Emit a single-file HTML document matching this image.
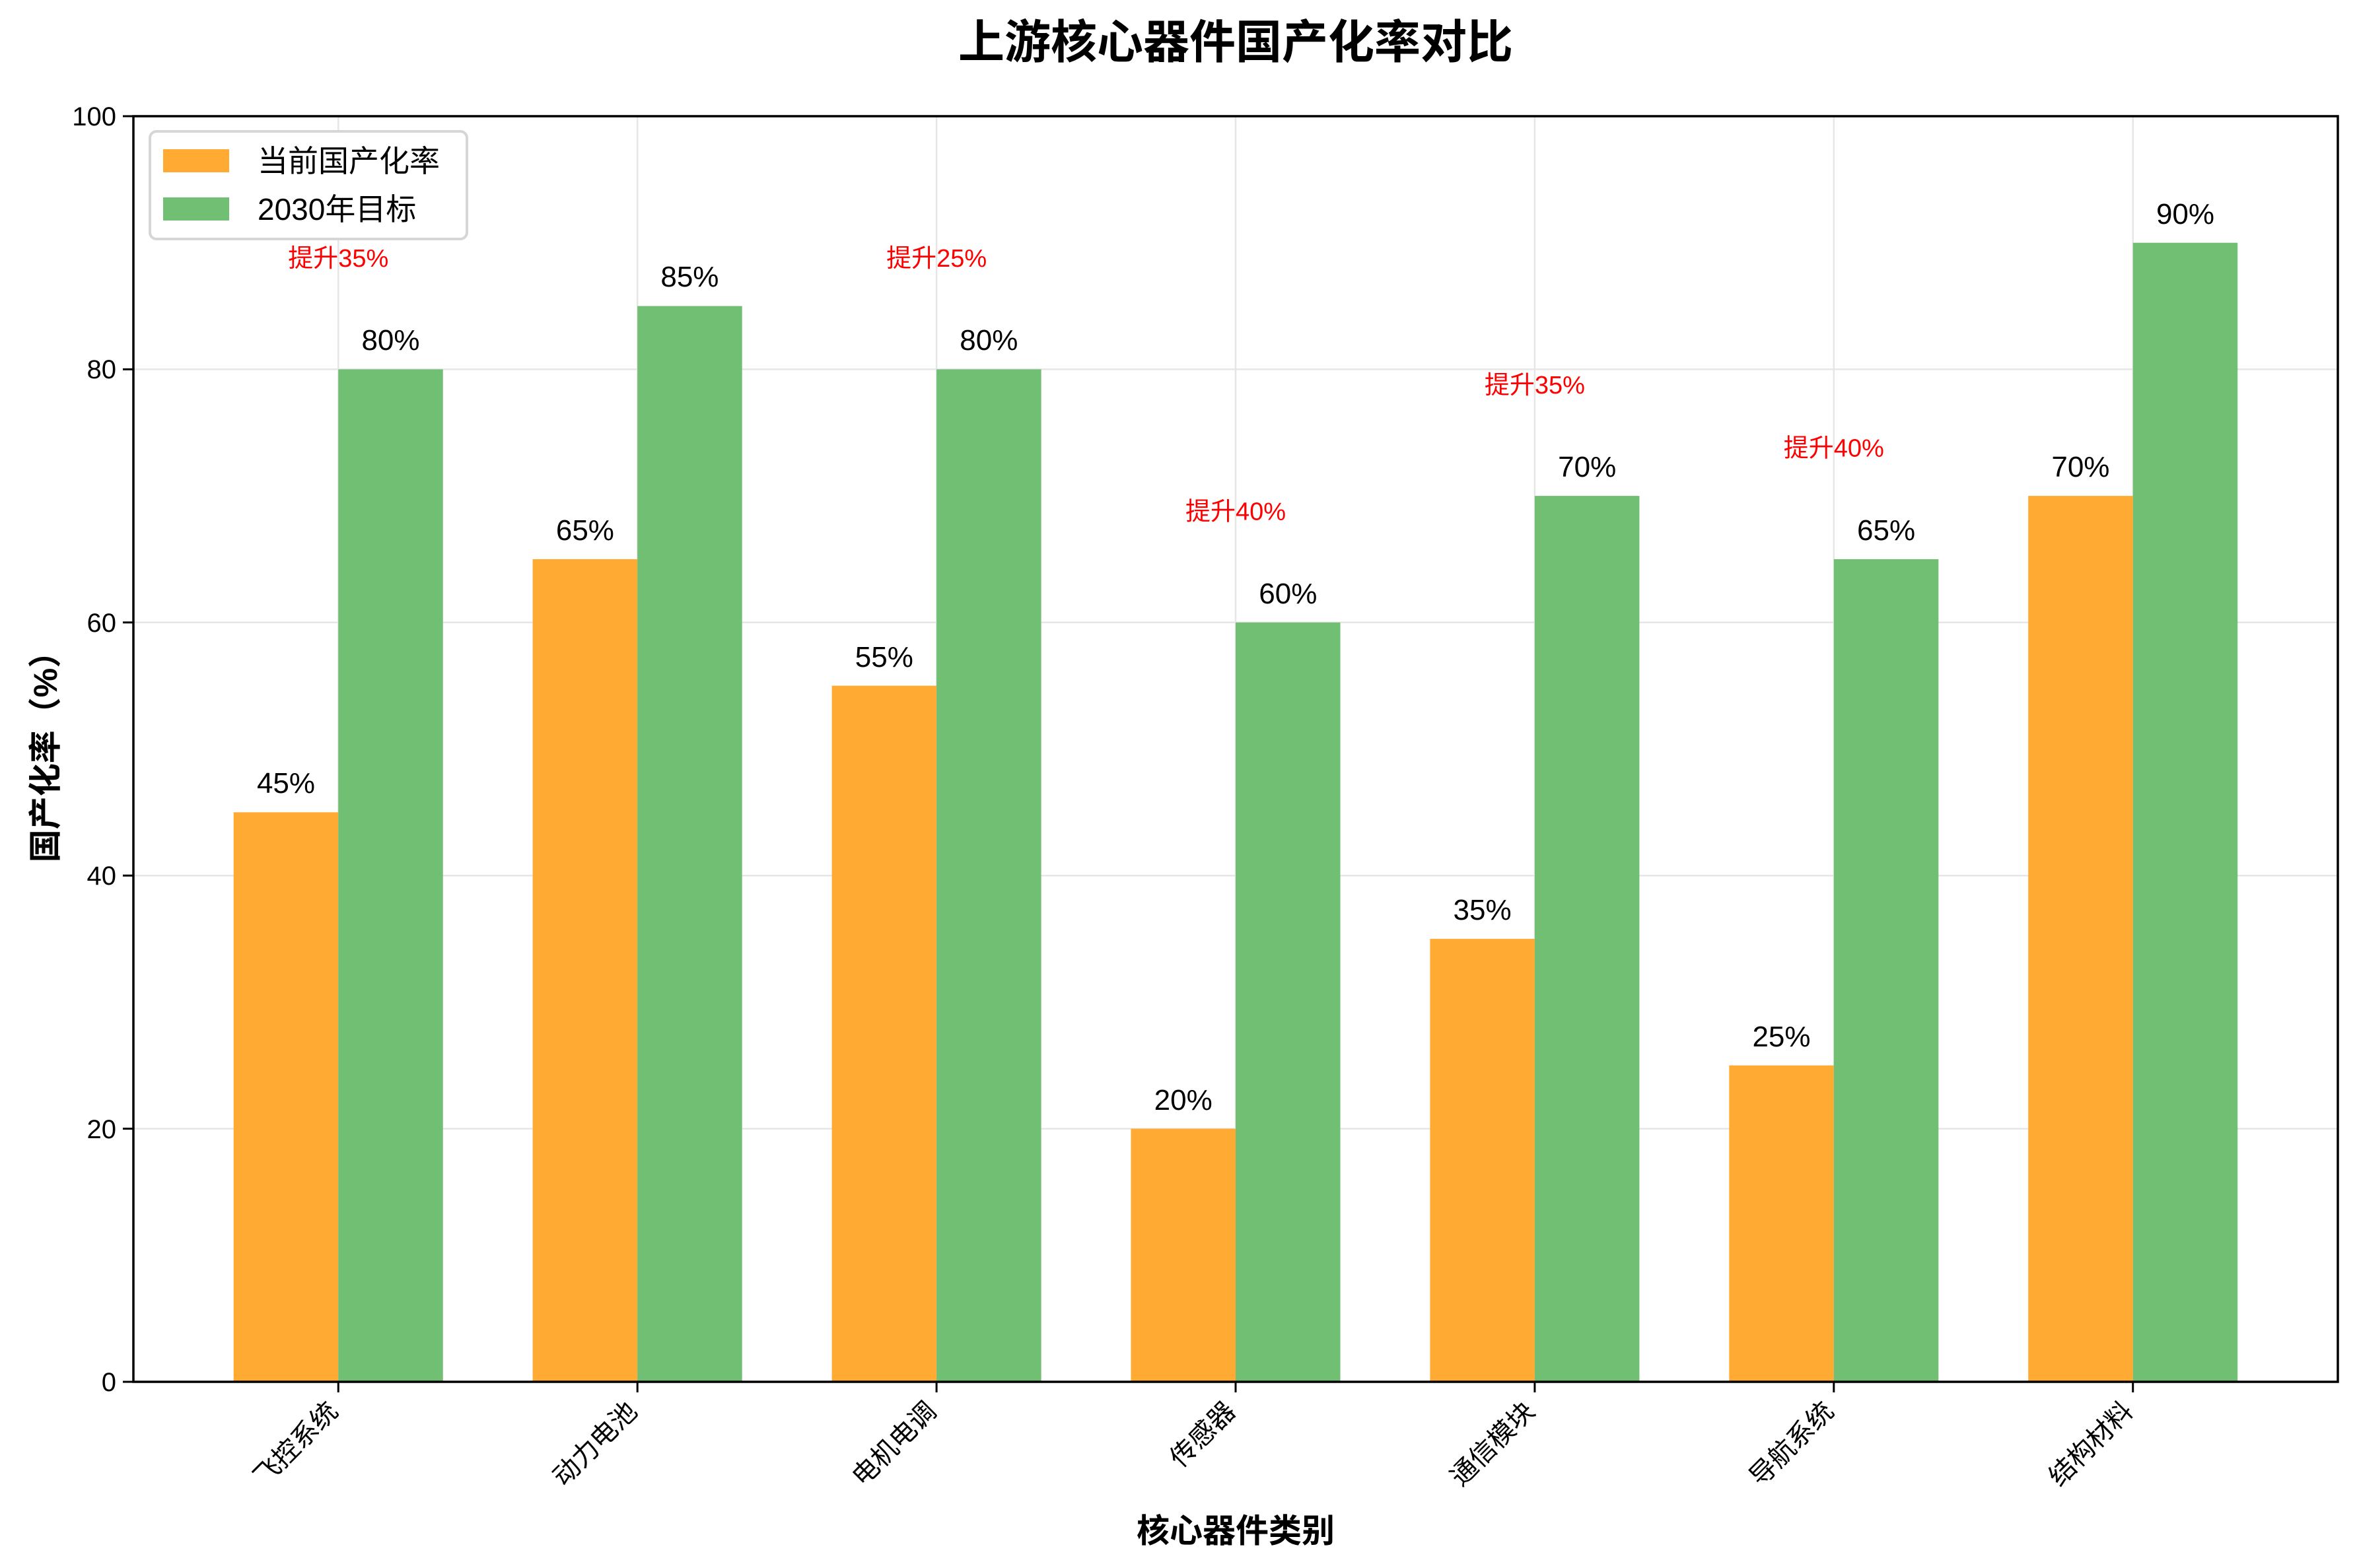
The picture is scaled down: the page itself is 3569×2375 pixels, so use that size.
<!DOCTYPE html>
<html><head><meta charset="utf-8"><style>
html,body{margin:0;padding:0;background:#fff}
svg text{font-family:"Liberation Sans","Noto Sans CJK SC",sans-serif}
</style></head><body>
<svg width="3569" height="2370" xmlns="http://www.w3.org/2000/svg">
<rect width="3569" height="2370" fill="#fff"/>
<g stroke="#e6e6e6" stroke-width="2.5">
<line x1="202" x2="3540" y1="1709.6" y2="1709.6"/>
<line x1="202" x2="3540" y1="1326.2" y2="1326.2"/>
<line x1="202" x2="3540" y1="942.8" y2="942.8"/>
<line x1="202" x2="3540" y1="559.4" y2="559.4"/>
<line x1="512.25" x2="512.25" y1="176" y2="2093"/>
<line x1="965.2" x2="965.2" y1="176" y2="2093"/>
<line x1="1418.1" x2="1418.1" y1="176" y2="2093"/>
<line x1="1871" x2="1871" y1="176" y2="2093"/>
<line x1="2323.9" x2="2323.9" y1="176" y2="2093"/>
<line x1="2776.8" x2="2776.8" y1="176" y2="2093"/>
<line x1="3229.7" x2="3229.7" y1="176" y2="2093"/>
</g>
<g fill="#feaa33">
<rect x="353.7" y="1230.35" width="158.55" height="862.65"/>
<rect x="806.6" y="846.95" width="158.6" height="1246.05"/>
<rect x="1259.6" y="1038.65" width="158.5" height="1054.35"/>
<rect x="1712.5" y="1709.6" width="158.5" height="383.4"/>
<rect x="2165.4" y="1422.05" width="158.5" height="670.95"/>
<rect x="2618.3" y="1613.75" width="158.5" height="479.25"/>
<rect x="3071.2" y="751.1" width="158.5" height="1341.9"/>
</g>
<g fill="#71bf73">
<rect x="512.25" y="559.4" width="158.5" height="1533.6"/>
<rect x="965.2" y="463.55" width="158.5" height="1629.45"/>
<rect x="1418.1" y="559.4" width="158.5" height="1533.6"/>
<rect x="1871" y="942.8" width="158.5" height="1150.2"/>
<rect x="2323.9" y="751.1" width="158.5" height="1341.9"/>
<rect x="2776.8" y="846.95" width="158.5" height="1246.05"/>
<rect x="3229.7" y="367.7" width="158.5" height="1725.3"/>
</g>
<g font-size="44" text-anchor="middle" fill="#000">
<text x="433" y="1201">45%</text><text x="591.5" y="530">80%</text>
<text x="885.9" y="818">65%</text><text x="1044.4" y="434">85%</text>
<text x="1338.8" y="1010">55%</text><text x="1497.3" y="530">80%</text>
<text x="1791.7" y="1681">20%</text><text x="1950.3" y="914">60%</text>
<text x="2244.6" y="1393">35%</text><text x="2403.2" y="722">70%</text>
<text x="2697.5" y="1585">25%</text><text x="2856.1" y="818">65%</text>
<text x="3150.4" y="722">70%</text><text x="3309" y="339">90%</text>
</g>
<g font-size="38" text-anchor="middle" fill="#ff0000">
<text x="512.25" y="404">提升35%</text>
<text x="1418.1" y="404">提升25%</text>
<text x="1871" y="787.5">提升40%</text>
<text x="2323.9" y="595.8">提升35%</text>
<text x="2776.8" y="691.7">提升40%</text>
</g>
<g stroke="#000" stroke-width="3">
<line x1="512.25" x2="512.25" y1="2093" y2="2109"/>
<line x1="965.2" x2="965.2" y1="2093" y2="2109"/>
<line x1="1418.1" x2="1418.1" y1="2093" y2="2109"/>
<line x1="1871" x2="1871" y1="2093" y2="2109"/>
<line x1="2323.9" x2="2323.9" y1="2093" y2="2109"/>
<line x1="2776.8" x2="2776.8" y1="2093" y2="2109"/>
<line x1="3229.7" x2="3229.7" y1="2093" y2="2109"/>
<line x1="186" x2="202" y1="2093" y2="2093"/>
<line x1="186" x2="202" y1="1709.6" y2="1709.6"/>
<line x1="186" x2="202" y1="1326.2" y2="1326.2"/>
<line x1="186" x2="202" y1="942.8" y2="942.8"/>
<line x1="186" x2="202" y1="559.4" y2="559.4"/>
<line x1="186" x2="202" y1="176" y2="176"/>
</g>
<g font-size="40" text-anchor="end">
<text x="176" y="2107">0</text>
<text x="176" y="1724">20</text>
<text x="176" y="1340">40</text>
<text x="176" y="957">60</text>
<text x="176" y="573">80</text>
<text x="176" y="190">100</text>
</g>
<g font-size="40" text-anchor="end">
<text transform="translate(514,2140) rotate(-45)">飞控系统</text>
<text transform="translate(967,2140) rotate(-45)">动力电池</text>
<text transform="translate(1420,2140) rotate(-45)">电机电调</text>
<text transform="translate(1873,2140) rotate(-45)">传感器</text>
<text transform="translate(2326,2140) rotate(-45)">通信模块</text>
<text transform="translate(2779,2140) rotate(-45)">导航系统</text>
<text transform="translate(3232,2140) rotate(-45)">结构材料</text>
</g>
<rect x="202" y="176" width="3338" height="1917" fill="none" stroke="#000" stroke-width="3.5"/>
<rect x="227" y="199" width="480" height="163" rx="10" fill="#fff" stroke="#d6d6d6" stroke-width="4"/>
<rect x="247" y="226" width="100" height="35" fill="#feaa33"/>
<rect x="247" y="299" width="100" height="35" fill="#71bf73"/>
<text x="390" y="260" font-size="46">当前国产化率</text>
<text x="390" y="333" font-size="46">2030年目标</text>
<text x="1871" y="88" font-size="70" font-weight="bold" text-anchor="middle">上游核心器件国产化率对比</text>
<text x="1871" y="2336" font-size="50" font-weight="bold" text-anchor="middle">核心器件类别</text>
<text transform="translate(86,1134) rotate(-90)" font-size="50" font-weight="bold" text-anchor="middle">国产化率（%）</text>
</svg>
</body></html>
